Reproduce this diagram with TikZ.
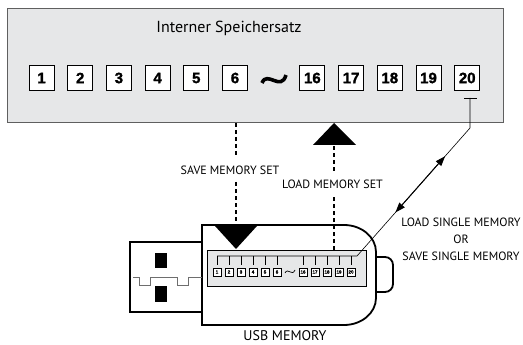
\documentclass[tikz,border=0pt]{standalone}
\usepackage{fontspec}
\setmainfont{PT Sans}
\newfontfamily\slotfont{Liberation Sans Bold}[FakeBold=1.5]
\usetikzlibrary{arrows.meta}
\definecolor{panelgray}{RGB}{230,231,232}
\definecolor{framegray}{RGB}{95,95,95}
\definecolor{wiregray}{RGB}{110,110,110}

\begin{document}
\begin{tikzpicture}[x=1pt,y=-1pt]
	\tikzstyle{every node}+=[inner sep=0pt]
	\tikzstyle{slot}=[draw=black,line width=0.9pt,fill=white,minimum width=25pt,minimum height=25pt,font=\slotfont\fontsize{15}{15}\selectfont]
	\tikzstyle{minislot}=[draw=black,line width=0.7pt,fill=white,minimum width=8pt,minimum height=8pt,font=\slotfont\fontsize{4.5}{4.5}\selectfont]
	\tikzstyle{caption}=[font=\fontsize{12}{17}\selectfont]
	\tikzstyle{dashline}=[line width=2.8pt,dash pattern=on 4pt off 3pt]
	\useasboundingbox (0,0) rectangle (523,345);
	% internal memory set
	\node [draw=framegray,fill=panelgray,line width=1pt,minimum width=496pt,minimum height=114pt] (intern) at (255,66) {};
	\node [font=\fontsize{16}{16}\selectfont] (title) at (229,28) {Interner Speichersatz};
	\foreach \n/\i in {1/0,2/1,3/2,4/3,5/4,6/5,16/7,17/8,18/9,19/10,20/11}
		\node [slot] (s\n) at ({41.5+38.7*\i},78) {\n};
	\draw [black,line width=3.6pt] (262,83) .. controls (267,70) and (281,92) .. (286,75);
	% tap from slot 20
	\draw [black,line width=0.6pt] (464,98) -- (477,98);
	\coordinate (tap) at (470,98);
	\coordinate (bend) at (470,128);
	% USB stick: ring, body, plug
	\draw [black,line width=1.8pt,rounded corners=8pt] (368,257) -- (393,257) -- (393,292) -- (368,292);
	\draw [black,line width=1.8pt,fill=white] (202,225) -- (344,225) arc (-90:0:32 and 27) -- (376,298) arc (0:90:32 and 27) -- (202,325) -- cycle;
	\draw [black,line width=2.6pt,fill=white] (130,242) rectangle (202,312);
	\fill [black] (155,253) rectangle (167,268);
	\fill [black] (155,286) rectangle (167,302);
	\draw [wiregray,line width=0.8pt] (133,277) -- (139,277) -- (139,285) -- (150,285) -- (150,277) -- (177,277) -- (177,285) -- (188,285) -- (188,277) -- (202,277);
	% memory panel on the stick
	\node [draw=black,fill=panelgray,line width=0.6pt,minimum width=159pt,minimum height=36pt] (panel) at (286.5,268) {};
	\foreach \n/\x in {1/217,2/229,3/241,4/253,5/265,6/277,16/303,17/315,18/327,19/339,20/351} {
		\node [minislot] (m\n) at (\x,272) {\n};
		\draw [black,line width=0.6pt] (\x,256) -- (\x,265);
	}
	\draw [black,line width=0.7pt] (285,273) .. controls (288,267) and (292,277) .. (295,270);
	\coordinate (join) at (357,256);
	\draw [black,line width=0.6pt] (217,256) -- (join) -- (bend) -- (tap);
	\path (join) -- (bend) coordinate [pos=0.34] (lo) coordinate [pos=0.78] (hi);
	\draw [black,line width=1pt,{Triangle[length=10pt,width=7pt]}-{Triangle[length=10pt,width=7pt]}] (lo) -- (hi);
	% save / load memory set
	\node [caption] (savelbl) at (230,170) {SAVE MEMORY SET};
	\node [caption] (loadlbl) at (332.5,184) {LOAD MEMORY SET};
	\draw [black,dashline] (236,123) -- (236,155);
	\draw [black,dashline] (236,182) -- (236,228);
	\fill [black] (236,249) -- (215,226) -- (257,226) -- cycle;
	\draw [black,dashline] (334,250) -- (334,197);
	\draw [black,dashline] (334,171) -- (334,143);
	\fill [black] (334,123) -- (313,145) -- (356,145) -- cycle;
	% single memory transfer
	\node [caption,align=center] (single) at (461,239) {LOAD SINGLE MEMORY\\OR\\SAVE SINGLE MEMORY};
	\node [font=\fontsize{14}{14}\selectfont] (usb) at (285,336) {USB MEMORY};
\end{tikzpicture}
\end{document}
